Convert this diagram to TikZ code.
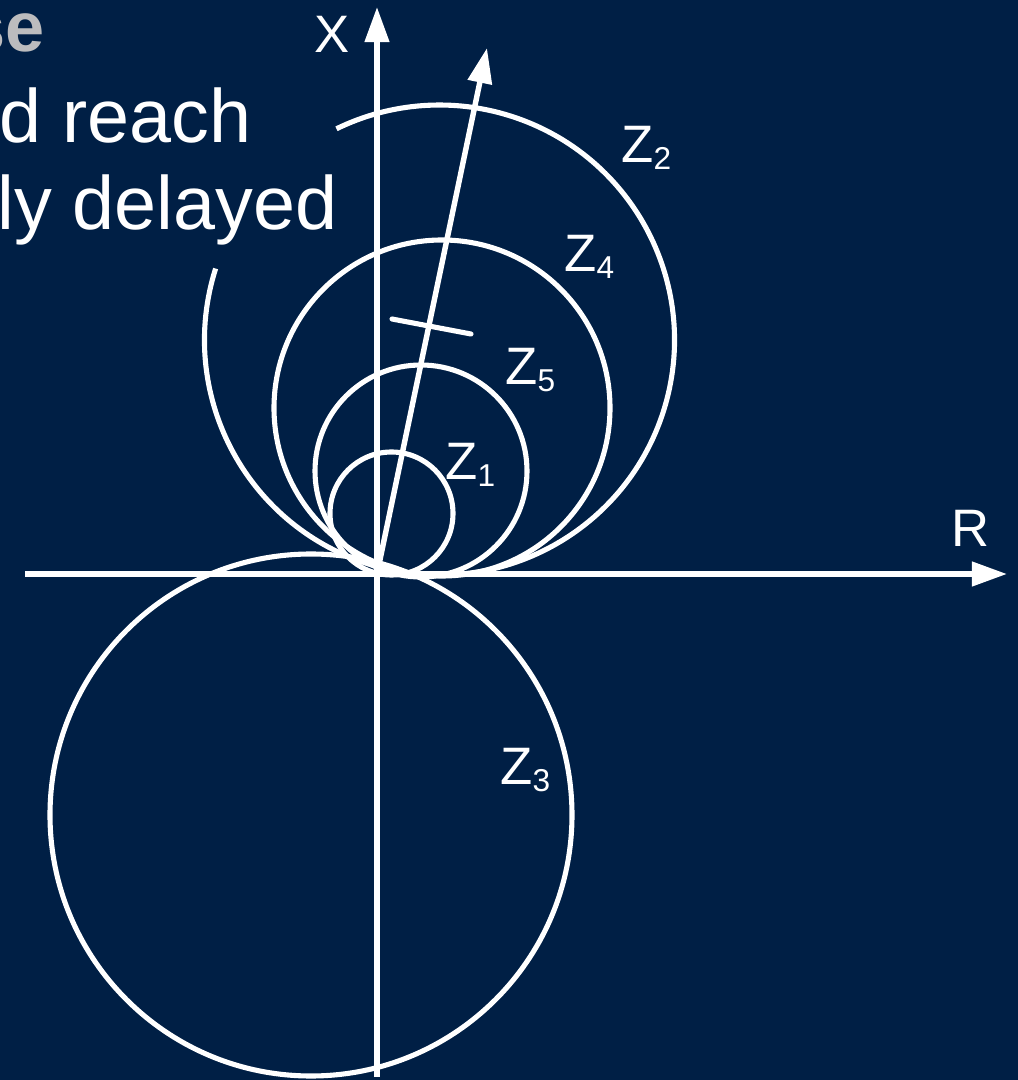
\documentclass[tikz,border=0pt]{standalone}
\usepackage{fontspec}
\setmainfont{Liberation Sans}
\usetikzlibrary{arrows.meta}
\definecolor{navy}{RGB}{0,31,69}
\definecolor{headgray}{RGB}{188,188,190}
\newcommand{\zsub}[1]{\raisebox{-0.14cm}{\fontsize{18}{18}\selectfont #1}}

\begin{document}
\begin{tikzpicture}[x=0.02cm, y=0.02cm, >={Triangle[length=20pt, width=13.5pt]}]
    \tikzstyle{axis} = [draw=white, line width=3.1pt]
    \tikzstyle{mho} = [draw=white, line width=2.9pt]
    \tikzstyle{lbl} = [text=white, inner sep=0pt, anchor=base west, font=\fontsize{30}{36}\selectfont]
    \tikzstyle{slide} = [text=white, inner sep=0pt, anchor=base east, font=\fontsize{43}{48}\selectfont]

    % Background, clipped to the slide corner
    \useasboundingbox (0,0) rectangle (1018,1080);
    \fill[navy] (0,0) rectangle (1018,1080);
    \clip (0,0) rectangle (1018,1080);

    % Slide text cut at the left edge
    \node (head) [slide, text=headgray, font=\bfseries\fontsize{40}{48}\selectfont] at (45,1028) {se};
    \node (line1) [slide] at (252,937) {d reach};
    \node (line2) [slide] at (338,850) {ly delayed};

    % Axes and line angle
    \coordinate (O) at (377,506);
    \coordinate (xbot) at (377,3);
    \coordinate (xtop) at (377,1073);
    \coordinate (rleft) at (25,506);
    \coordinate (rright) at (1007,506);
    \coordinate (ltop) at (487,1032);
    \coordinate (tick1) at (392,761);
    \coordinate (tick2) at (471,746);

    \draw[axis, ->] (xbot) -- (xtop);
    \draw[axis, ->] (rleft) -- (rright);
    \draw[axis, ->] (O) -- (ltop);
    \draw[mho, line cap=round] (tick1) -- (tick2);

    % Zone circles
    \coordinate (c1) at (391.5,566.5);
    \coordinate (c5) at (421,609);
    \coordinate (c4) at (442,672);
    \coordinate (c2) at (439.5,740);
    \coordinate (c3) at (311,265);

    \draw[mho] (c1) circle [radius=61.5];
    \draw[mho] (c5) circle [radius=106];
    \draw[mho] (c4) circle [radius=168];
    \draw[mho] (c2) ++(162.3:235) arc [start angle=162.3, end angle=476, radius=235];
    \draw[mho] (c3) circle [radius=261];

    % Labels
    \node (xlbl) [lbl] at (314,1027) {X};
    \node (rlbl) [lbl] at (951,533) {R};
    \node (z2) [lbl] at (621,917) {Z\zsub{2}};
    \node (z4) [lbl] at (564,808) {Z\zsub{4}};
    \node (z5) [lbl] at (505,695) {Z\zsub{5}};
    \node (z1) [lbl] at (445,600) {Z\zsub{1}};
    \node (z3) [lbl] at (500,295) {Z\zsub{3}};
\end{tikzpicture}
\end{document}
